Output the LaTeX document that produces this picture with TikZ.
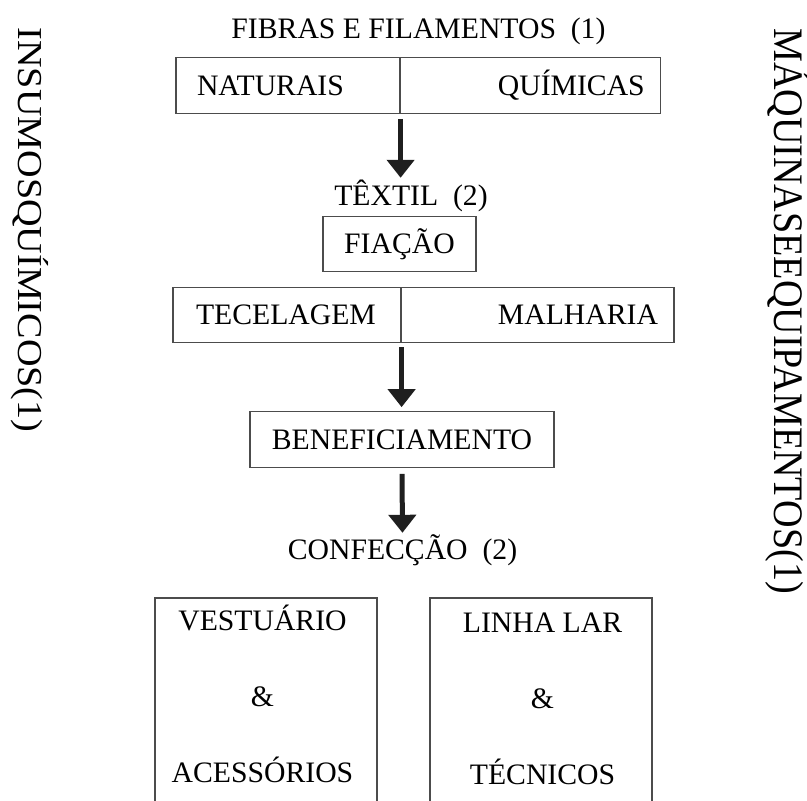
\documentclass[tikz,border=0pt]{standalone}
\usepackage{fontspec}
\setmainfont{Liberation Serif}
\usepackage{graphicx}
\usetikzlibrary{arrows.meta}

\begin{document}
\begin{tikzpicture}[x=0.5pt, y=-0.5pt,
    font=\fontsize{14.85}{17}\selectfont,
    stagebox/.style={
        rectangle,
        draw=black!70,
        line width=0.6pt,
        inner ysep=0pt,
        minimum height=27.75pt,
        text height=9.8pt,
        text depth=0pt
    },
    heading/.style={
        inner sep=0pt,
        text height=9.8pt,
        text depth=0pt
    },
    flow/.style={
        -{Triangle[width=13.5pt,length=9pt]},
        line width=2.5pt,
        black!88
    }
]

    \clip (0,0) rectangle (807,801);



    \node (fibras_txt) [heading, shift={(418.5, 29)}]
    {
        FIBRAS E FILAMENTOS~~(1)
    };

    \node (naturais_box) [stagebox, inner xsep=10.5pt, text width=91pt, align=left, shift={(288, 85.5)}]
    {
        NATURAIS
    };

    \node (quimicas_box) [stagebox, inner xsep=8pt, text width=114.25pt, align=right, shift={(530.5, 85.5)}]
    {
        QUÍMICAS
    };





    \node (textil_txt) [heading, shift={(411, 196)}]
    {
        TÊXTIL~~(2)
    };

    \node (fiacao_box) [stagebox, minimum width=76.5pt, shift={(399.5, 244)}]
    {
        FIAÇÃO
    };

    \node (tecelagem_box) [stagebox, inner xsep=11.5pt, text width=91pt, align=left, shift={(287, 315)}]
    {
        TECELAGEM
    };

    \node (malharia_box) [stagebox, inner xsep=8pt, text width=120.5pt, align=right, shift={(537.5, 315)}]
    {
        MALHARIA
    };

    \node (beneficiamento_box) [stagebox, minimum width=152pt, shift={(402, 439.5)}]
    {
        BENEFICIAMENTO
    };

    \node (confeccao_txt) [heading, shift={(402.5, 550)}]
    {
        CONFECÇÃO~~(2)
    };





    \node (vestuario_box) [stagebox, minimum width=111pt, minimum height=116pt, shift={(266, 714)}] {};

    \node (linha_lar_box) [stagebox, minimum width=111pt, minimum height=116pt, shift={(541, 714)}] {};

    \node (vestuario_txt) [align=center, inner sep=0pt, font=\fontsize{14.85}{38}\selectfont, shift={(262.5, 694)}]
    {
        VESTUÁRIO\\ \&\\ ACESSÓRIOS
    };

    \node (linha_lar_txt) [align=center, inner sep=0pt, font=\fontsize{14.85}{38}\selectfont, shift={(542.5, 699)}]
    {
        LINHA LAR\\ \&\\ TÉCNICOS
    };





    \node (insumos_txt) [heading, shift={(30, 230)}, rotate=-90, font=\fontsize{17.5}{20}\selectfont, text height=11.6pt]
    {
        \scalebox{1.09}[1]{INSUMOSQUÍMICOS(1)}
    };

    \node (maquinas_txt) [heading, shift={(788, 311)}, rotate=-90, font=\fontsize{21}{24}\selectfont, text height=13.9pt]
    {
        \scalebox{0.908}[1]{MÁQUINASEEQUIPAMENTOS(1)}
    };


    \draw[flow, shorten <=2.5pt, shorten >=4pt] (naturais_box.south east) to (naturais_box.south east |- textil_txt.north);
    \draw[flow, shorten <=2pt, shorten >=2pt] (tecelagem_box.south east) to (tecelagem_box.south east |- beneficiamento_box.north);
    \draw[flow, shorten <=3pt, shorten >=3.5pt] (beneficiamento_box.south) to (confeccao_txt.north);


\end{tikzpicture}
\end{document}
